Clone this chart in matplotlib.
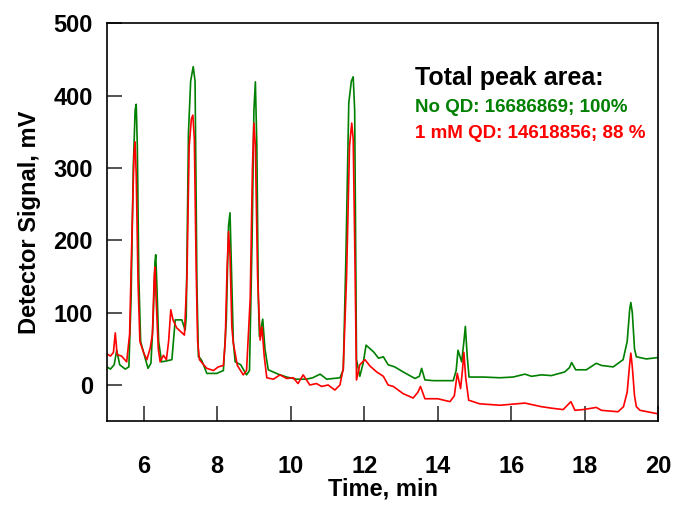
import matplotlib
matplotlib.use("Agg")
import matplotlib.pyplot as plt

plt.rcParams['font.family'] = ['Liberation Sans', 'DejaVu Sans']
plt.rcParams['font.weight'] = 'bold'

# chromatogram traces: time (min), signal (mV)
no_qd_t = [5.0, 5.1, 5.2, 5.27, 5.35, 5.5, 5.6, 5.66, 5.72, 5.77, 5.8, 5.83, 5.87, 5.92,
           6.0, 6.12, 6.2, 6.26, 6.31, 6.33, 6.36, 6.41, 6.49, 6.6, 6.77, 6.86, 7.04, 7.13,
           7.16, 7.22, 7.28, 7.35, 7.4, 7.45, 7.49, 7.54, 7.59, 7.72, 7.99, 8.17, 8.25, 8.31,
           8.35, 8.39, 8.44, 8.49, 8.64, 8.8, 8.88, 8.95, 9.0, 9.04, 9.08, 9.12, 9.15, 9.24,
           9.3, 9.39, 9.66, 9.89, 10.16, 10.43, 10.6, 10.8, 10.98, 11.34, 11.43, 11.5, 11.58,
           11.65, 11.7, 11.74, 11.79, 11.88, 11.97, 12.05, 12.25, 12.39, 12.52, 12.65, 12.83,
           13.06, 13.38, 13.5, 13.56, 13.65, 13.88, 14.42, 14.5, 14.55, 14.65, 14.71, 14.75,
           14.8, 14.85, 15.23, 15.69, 16.05, 16.37, 16.55, 16.82, 17.09, 17.45, 17.58, 17.64,
           17.75, 18.04, 18.31, 18.45, 18.77, 19.04, 19.15, 19.22, 19.25, 19.29, 19.35, 19.4,
           19.67, 20.0]
no_qd_v = [25, 22, 28, 48, 28, 22, 25, 120, 300, 380, 388, 330, 150, 60,
           45, 23, 30, 90, 170, 180, 140, 60, 32, 33, 35, 90, 90, 76,
           94, 348, 420, 440, 420, 141, 39, 37, 33, 16, 16, 20, 90, 220,
           238, 160, 60, 32, 28, 14, 20, 200, 380, 419, 330, 120, 67, 91,
           50, 21, 15, 11, 8, 8, 10, 15, 8, 10, 21, 173, 390,
           420, 426, 380, 35, 12, 30, 55, 46, 37, 39, 28, 25,
           18, 9, 12, 23, 7, 6, 6, 20, 48, 32, 60, 81,
           40, 11, 11, 10, 11, 15, 12, 14, 13, 18, 24, 31,
           21, 21, 30, 27, 25, 35, 60, 105, 114, 100, 50, 39,
           36, 38]

qd_t = [5.0, 5.1, 5.18, 5.23, 5.28, 5.4, 5.54, 5.62, 5.68, 5.74, 5.77, 5.8, 5.85, 5.9,
        6.0, 6.09, 6.18, 6.24, 6.29, 6.31, 6.34, 6.4, 6.45, 6.54, 6.62, 6.68, 6.74, 6.8,
        6.9, 7.11, 7.18, 7.24, 7.3, 7.34, 7.38, 7.43, 7.47, 7.52, 7.6, 7.72, 7.9, 8.03,
        8.17, 8.22, 8.27, 8.31, 8.35, 8.4, 8.44, 8.55, 8.71, 8.8, 8.9, 8.96, 9.0, 9.04,
        9.1, 9.17, 9.22, 9.28, 9.35, 9.53, 9.71, 9.89, 10.07, 10.2, 10.34, 10.52, 10.7,
        10.84, 11.02, 11.2, 11.34, 11.43, 11.52, 11.6, 11.66, 11.7, 11.74, 11.79, 11.88,
        12.02, 12.16, 12.34, 12.52, 12.65, 12.79, 13.06, 13.33, 13.46, 13.53, 13.65, 14.0,
        14.33, 14.45, 14.53, 14.62, 14.67, 14.71, 14.76, 14.84, 15.14, 15.69, 16.37, 16.82,
        17.09, 17.41, 17.62, 17.73, 17.95, 18.31, 18.45, 18.9, 19.05, 19.15, 19.22, 19.25,
        19.29, 19.35, 19.4, 19.5, 20.0]
qd_v = [43, 40, 45, 72, 42, 40, 32, 70, 200, 320, 336, 290, 140, 60,
        45, 35, 51, 70, 150, 163, 120, 50, 32, 41, 35, 60, 104, 90,
        79, 69, 150, 330, 368, 373, 340, 160, 60, 35, 30, 23, 20, 25,
        27, 60, 160, 212, 180, 80, 58, 27, 14, 20, 120, 300, 362, 330,
        150, 62, 80, 40, 10, 8, 14, 9, 10, 2, 14, 0, 2,
        -2, 0, -7, 0, 23, 150, 330, 362, 340, 200, 7, 28,
        35, 26, 18, 12, 0, -2, -12, -18, -10, -2, -19, -19,
        -23, -15, 16, -5, 20, 45, 10, -21, -26, -28, -25, -30,
        -32, -34, -23, -35, -34, -31, -35, -37, -30, -10, 30, 44,
        25, -15, -30, -35, -40]

green = '#008000'
red = '#ff0000'

W, H = 676, 505
fig = plt.figure(figsize=(W / 100, H / 100), dpi=100)
ax = fig.add_axes([0.158, 0.166, 0.816, 0.788])

ax.plot(no_qd_t, no_qd_v, color=green, lw=1.2)
ax.plot(qd_t, qd_v, color=red, lw=1.2)

ax.set_xlim(5, 20)
ax.set_ylim(-50, 500)
ax.set_xticks(range(6, 21, 2))
ax.set_yticks(range(0, 501, 100))
ax.tick_params(direction='in', length=11, width=1.2, color='#333333', labelsize=17,
               top=False, right=False)
ax.tick_params(axis='x', pad=24)
ax.tick_params(axis='y', pad=10)
for s in ax.spines.values():
    s.set_linewidth(1.2)

ax.set_xlabel('Time, min', fontsize=17, fontweight='bold', labelpad=0)
ax.set_ylabel('Detector Signal, mV', fontsize=17, fontweight='bold', labelpad=9)

fig.text(415 / W, 1 - 85 / H, 'Total peak area:', fontsize=18, fontweight='bold',
         color='black', va='baseline')
fig.text(415 / W, 1 - 112 / H, 'No QD: 16686869; 100%', fontsize=13.5,
         fontweight='bold', color=green, va='baseline')
fig.text(415 / W, 1 - 138 / H, '1 mM QD: 14618856; 88 %', fontsize=13.5,
         fontweight='bold', color=red, va='baseline')

plt.savefig('out.png', dpi=100)
